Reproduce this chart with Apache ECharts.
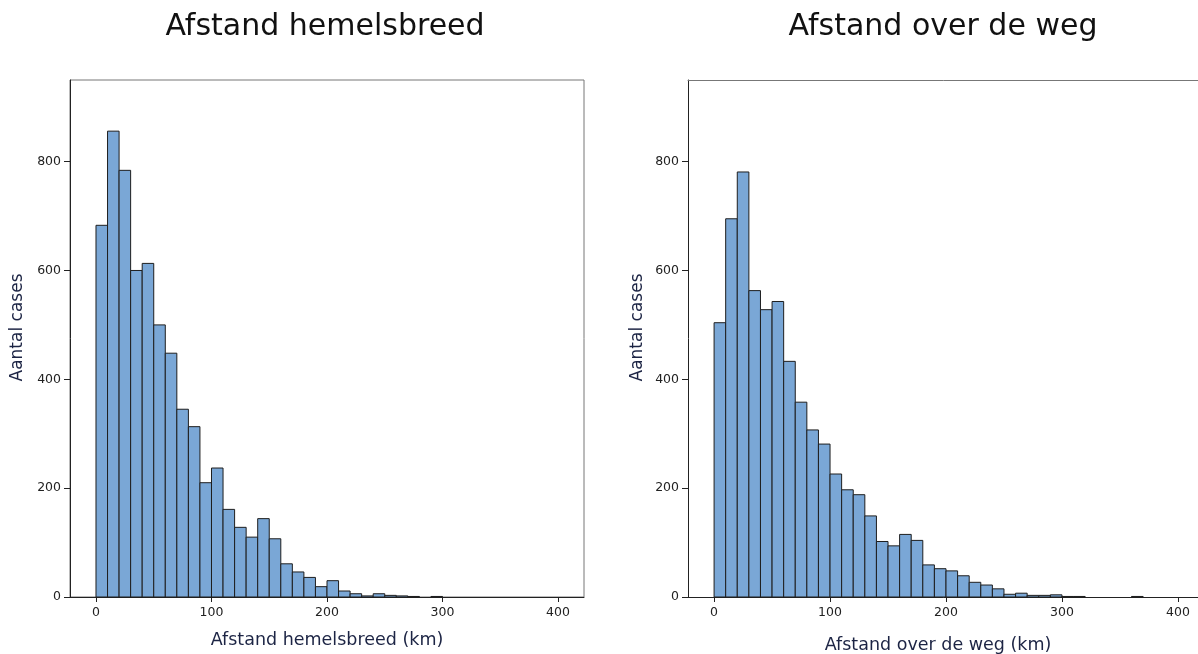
<!DOCTYPE html>
<html>
<head>
<meta charset="utf-8">
<style>
  html, body { margin: 0; padding: 0; background: #fff; }
  #main { width: 1198px; height: 654px; }
</style>
<script src="https://cdn.jsdelivr.net/npm/echarts@6/dist/echarts.min.js"></script>
</head>
<body>
<div id="main"></div>
<script>
// bins van 10 km, beginnend bij 0
var binWidth = 10;
// aantal cases per bin
var hemelsbreedCounts = [683, 856, 784, 600, 613, 500, 448, 345, 313, 210,
  237, 161, 128, 110, 144, 107, 61, 46, 36, 19,
  30, 11, 6, 2, 6, 3, 2, 1, 0, 1];
var wegCounts = [504, 695, 781, 563, 528, 543, 433, 358, 307, 281,
  226, 197, 188, 149, 102, 94, 115, 104, 59, 52,
  48, 39, 27, 22, 15, 5, 7, 3, 3, 4,
  1, 1, 0, 0, 0, 0, 1];
var xTicks = [0, 100, 200, 300, 400];
var yTicks = [0, 200, 400, 600, 800];

var font = 'DejaVu Sans';
var barFill = '#7aa7d6';
var barStroke = '#1e1e1e';

// [begin, eind, aantal], lege bins worden niet getekend
function toBins(counts) {
  var out = [];
  counts.forEach(function (c, i) {
    if (c > 0) out.push([i * binWidth, (i + 1) * binWidth, c]);
  });
  return out;
}

function renderBar(params, api) {
  var p0 = api.coord([api.value(0), api.value(2)]);
  var p1 = api.coord([api.value(1), 0]);
  return {
    type: 'rect',
    shape: { x: p0[0], y: p0[1], width: p1[0] - p0[0], height: p1[1] - p0[1] },
    style: { fill: barFill, stroke: barStroke, lineWidth: 1 }
  };
}

function xAxisFor(idx, name, pad) {
  return {
    gridIndex: idx,
    type: 'value',
    min: -22.5,
    max: 422.5,
    name: name,
    nameLocation: 'middle',
    nameGap: pad.gap,
    nameTextStyle: { fontFamily: font, fontSize: 17.5, color: '#1c2444', padding: pad.padding },
    splitLine: { show: false },
    axisLine: { show: true, onZero: false, lineStyle: { color: '#222', width: 1 } },
    axisTick: { show: true, length: 5, customValues: xTicks, lineStyle: { color: '#222' } },
    axisLabel: { customValues: xTicks, margin: 9, fontFamily: font, fontSize: 12.5, color: '#222' }
  };
}

function yAxisFor(idx, gap) {
  return {
    gridIndex: idx,
    type: 'value',
    min: 0,
    max: 950,
    name: 'Aantal cases',
    nameLocation: 'middle',
    nameGap: gap,
    nameRotate: 90,
    nameTextStyle: { fontFamily: font, fontSize: 17, color: '#1c2444', padding: [0, 0, 0, 22] },
    splitLine: { show: false },
    axisLine: { show: true, onZero: false, lineStyle: { color: '#222', width: 1 } },
    axisTick: { show: true, length: 6, customValues: yTicks, lineStyle: { color: '#222' } },
    axisLabel: { customValues: yTicks, margin: 9, fontFamily: font, fontSize: 12.5, color: '#222' }
  };
}

var myChart = echarts.init(document.getElementById('main'));
myChart.setOption({
  animation: false,
  title: [{
    text: 'Afstand hemelsbreed',
    left: 325, top: 12, textAlign: 'center', padding: 0,
    textStyle: { fontFamily: font, fontSize: 30, fontWeight: 'normal', color: '#111' }
  }, {
    text: 'Afstand over de weg',
    left: 943, top: 12, textAlign: 'center', padding: 0,
    textStyle: { fontFamily: font, fontSize: 30, fontWeight: 'normal', color: '#111' }
  }],
  grid: [
    { left: 70, top: 80, width: 514, height: 517, show: true, borderColor: '#777', borderWidth: 1,
      containLabel: false, outerBoundsMode: 'none' },
    // rechterkader valt buiten de afbeelding: alleen de bovenrand tekenen
    { left: 688, top: 80, width: 516, height: 517, show: false,
      containLabel: false, outerBoundsMode: 'none' }
  ],
  xAxis: [
    xAxisFor(0, 'Afstand hemelsbreed (km)', { gap: 34, padding: [0, 0, 0, 0] }),
    xAxisFor(1, 'Afstand over de weg (km)', { gap: 39, padding: [0, 16, 0, 0] }),
    {
      gridIndex: 1, type: 'value', position: 'top', min: -22.5, max: 422.5,
      splitLine: { show: false }, axisTick: { show: false }, axisLabel: { show: false },
      axisLine: { show: true, onZero: false, lineStyle: { color: '#777', width: 1 } }
    }
  ],
  yAxis: [yAxisFor(0, 44), yAxisFor(1, 42)],
  series: [{
    type: 'custom',
    xAxisIndex: 0, yAxisIndex: 0,
    renderItem: renderBar,
    encode: { x: [0, 1], y: 2 },
    data: toBins(hemelsbreedCounts)
  }, {
    type: 'custom',
    xAxisIndex: 1, yAxisIndex: 1,
    renderItem: renderBar,
    encode: { x: [0, 1], y: 2 },
    data: toBins(wegCounts)
  }]
});
</script>
</body>
</html>
